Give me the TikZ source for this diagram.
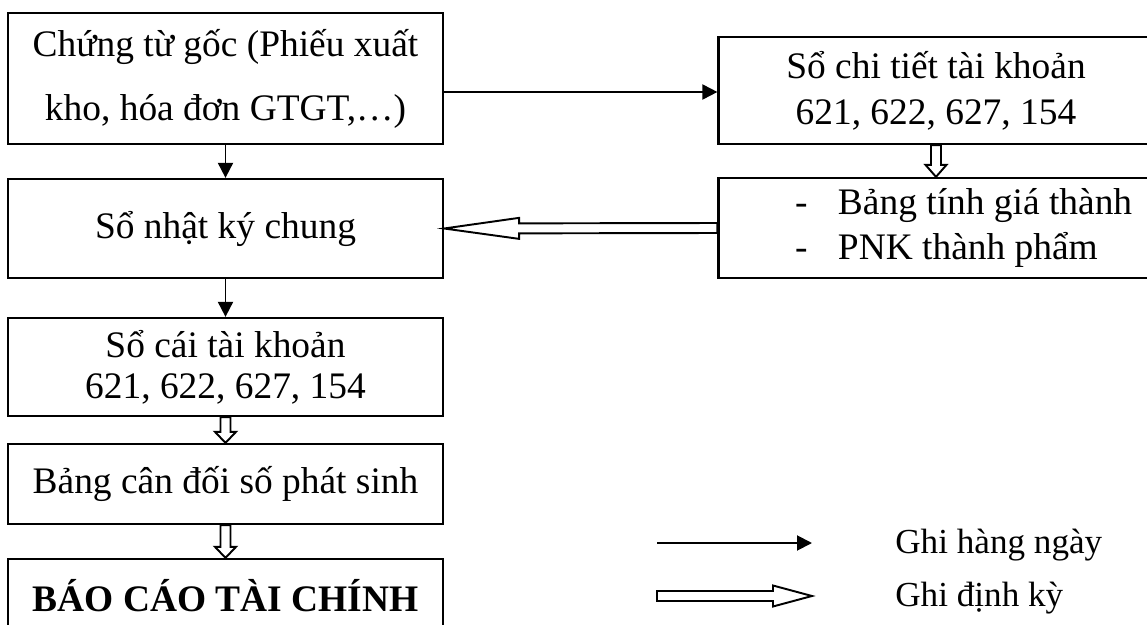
\documentclass[tikz,border=0pt]{standalone}
\usepackage{fontspec}
\setmainfont{Liberation Serif}
\usetikzlibrary{arrows.meta,calc}

\newcommand\dashitem[1]{\hspace*{1.44cm}\makebox[0.86cm][l]{-}#1}
% outlined arrow: head length, from, to
\newcommand\hollowarrow[3]{%
  \coordinate (hb) at ($(#3)!#1!(#2)$);
  \draw[hollow] ($(#2)!0.1cm!90:(#3)$) -- ($(hb)!0.1cm!90:(#3)$)
    -- ($(hb)!0.21cm!90:(#3)$) -- (#3) -- ($(hb)!0.21cm!-90:(#3)$)
    -- ($(hb)!0.1cm!-90:(#3)$) -- ($(#2)!0.1cm!-90:(#3)$) -- cycle;}

\begin{document}
\begin{tikzpicture}[x=0.02cm,y=-0.02cm,>={Triangle[length=0.3cm,width=0.3cm]},
  box/.style={draw,line width=1.3pt,minimum width=8.7cm,inner sep=0.08cm,
    align=center,font=\fontsize{21.3}{25}\selectfont},
  daily/.style={->,line width=1.1pt},
  hollow/.style={draw,line width=1.1pt,fill=white},
  legend/.style={inner sep=0pt,font=\fontsize{20}{24}\selectfont}]
  \useasboundingbox (0,0) rectangle (1147,625);
  % left column
  \node[box,minimum height=2.62cm,font=\fontsize{21.3}{36.5}\selectfont] (goc) at (225.5,78.5)
    {Chứng từ gốc (Phiếu xuất\\kho, hóa đơn GTGT,…)};
  \node[box,minimum height=1.98cm] (nkc) at (225.5,228.5) {Sổ nhật ký chung};
  \node[box,minimum height=1.96cm,font=\fontsize{21.3}{23.3}\selectfont] (socai) at (225.5,367)
    {Sổ cái tài khoản\\621, 622, 627, 154};
  \node[box,minimum height=1.6cm] (cdps) at (225.5,484) {Bảng cân đối số phát sinh};
  \node[box,minimum height=1.48cm,font=\fontsize{21.3}{25}\selectfont\bfseries] (bctc) at (225.5,596)
    {BÁO CÁO TÀI CHÍNH};
  % right column
  \node[box,minimum height=2.14cm,font=\fontsize{21.3}{26}\selectfont] (chitiet) at (936,90.5)
    {Sổ chi tiết tài khoản\\621, 622, 627, 154};
  \node[box,minimum height=2cm,text width=8.52cm,align=flush left,
    font=\fontsize{21.3}{25.6}\selectfont] (gia) at (936,228)
    {\dashitem{Bảng tính giá thành}\\\dashitem{PNK thành phẩm}};
  % connectors
  \draw[daily] ([yshift=-0.27cm]goc.east) -- ([yshift=-0.27cm]goc.east -| chitiet.west);
  \draw[daily] (goc.south) -- (nkc.north);
  \draw[daily] (nkc.south) -- (socai.north);
  \hollowarrow{0.24cm}{chitiet.south}{gia.north}
  \hollowarrow{1.5cm}{gia.west}{nkc.east}
  \hollowarrow{0.22cm}{socai.south}{cdps.north}
  \hollowarrow{0.22cm}{cdps.south}{bctc.north}
  % legend
  \coordinate (dayS) at (657,543);
  \coordinate (dayE) at (812,543);
  \coordinate (perS) at (657,596);
  \coordinate (perE) at (812,596);
  \draw[daily] (dayS) -- (dayE);
  \hollowarrow{0.78cm}{perS}{perE}
  \node[legend,anchor=base west] (dayT) at (895,553) {Ghi hàng ngày};
  \node[legend,anchor=base west] (perT) at (895,606) {Ghi định kỳ};
\end{tikzpicture}
\end{document}
